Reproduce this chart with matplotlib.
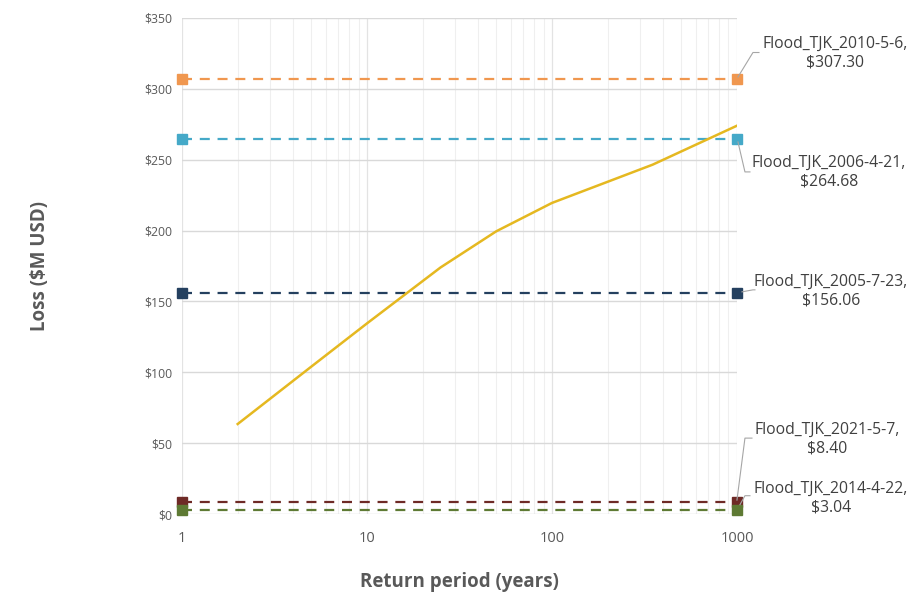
import matplotlib
matplotlib.use("Agg")
import matplotlib.pyplot as plt
from matplotlib.ticker import FixedLocator, NullFormatter, LogLocator
from matplotlib.lines import Line2D
from matplotlib.transforms import IdentityTransform

plt.rcParams['font.family'] = ['Open Sans', 'DejaVu Sans']

# Loss exceedance curve
return_periods = [2, 5, 10, 25, 50, 100, 350, 1000]
losses = [63.5, 104.0, 134.5, 174.0, 199.5, 219.5, 246.5, 274.0]

# Historical events
event_names = ["Flood_TJK_2010-5-6", "Flood_TJK_2006-4-21", "Flood_TJK_2005-7-23",
               "Flood_TJK_2021-5-7", "Flood_TJK_2014-4-22"]
event_losses = [307.30, 264.68, 156.06, 8.40, 3.04]
event_colors = ["#F0974F", "#45A9C8", "#24405F", "#6E2A26", "#5E7A34"]
event_x = [1, 1000]

# label text offsets (pixels from the right-hand marker) and leader paths
label_offsets = [(98, 25), (92, -33), (94, 2), (90, 63), (94, 12)]
leader_paths = [
    [(1, 1.5), (16, 26), (22, 26)],
    [(1, -3), (8, -33), (13, -33)],
    [(5, 1), (16, 3), (18, 3)],
    [(0, 2), (8, 64), (15, 64)],
    [(3, 5), (8, 14), (13, 14)],
]

y_ticks = [0, 50, 100, 150, 200, 250, 300, 350]
x_ticks = [1, 10, 100, 1000]

fig = plt.figure(figsize=(9.22, 6.12), dpi=100)
ax = fig.add_axes([0.1974, 0.1601, 0.6019, 0.8105])
ax.set_xscale('log')
ax.set_xlim(1, 1000)
ax.set_ylim(0, 350)

for name, val, col in zip(event_names, event_losses, event_colors):
    ax.plot(event_x, [val, val], color=col, lw=1.6, ls=(0, (4.5, 3.5)),
            marker='s', ms=6.5, clip_on=False, zorder=3)

ax.plot(return_periods, losses, color="#E5B820", lw=1.8, zorder=4)

ax.yaxis.set_major_locator(FixedLocator(y_ticks))
ax.set_yticklabels([f"${v}" for v in y_ticks])
ax.xaxis.set_major_locator(FixedLocator(x_ticks))
ax.set_xticklabels([str(v) for v in x_ticks])
ax.xaxis.set_minor_locator(LogLocator(base=10, subs=range(2, 10)))
ax.xaxis.set_minor_formatter(NullFormatter())

ax.grid(True, which='major', axis='y', color='#D9D9D9', lw=1)
ax.grid(True, which='major', axis='x', color='#E3E3E3', lw=0.9)
ax.grid(True, which='minor', axis='x', color='#EFEFEF', lw=0.8)
ax.set_axisbelow(True)
for s in ax.spines.values():
    s.set_visible(False)
ax.tick_params(axis='both', which='both', length=0)
ax.tick_params(axis='y', labelsize=8.8, labelcolor='#595959', pad=7)
ax.tick_params(axis='x', labelsize=10.5, labelcolor='#595959', pad=12)

ax.set_xlabel("Return period (years)", fontsize=13.5, fontweight='bold',
              color='#595959', labelpad=19)
fig.text(0.043, 0.566, "Loss ($M USD)", rotation=90, fontsize=13.5,
         fontweight='bold', color='#595959', ha='center', va='center')

# labels with leader lines (positioned relative to the right-hand markers)
fig.canvas.draw()
for name, val, (dx, dy), path in zip(event_names, event_losses,
                                     label_offsets, leader_paths):
    px, py = ax.transData.transform((event_x[-1], val))
    ax.annotate(f"{name},\n${val:.2f}", xy=(event_x[-1], val),
                xytext=(dx, dy), textcoords='offset pixels',
                ha='center', va='center', fontsize=11.3,
                color="#404040", linespacing=1.22, annotation_clip=False)
    xs = [px + p[0] for p in path]
    ys = [py + p[1] for p in path]
    fig.add_artist(Line2D(xs, ys, transform=IdentityTransform(),
                          color='#A6A6A6', lw=0.8))

fig.savefig("out.png", dpi=100, facecolor='white')
